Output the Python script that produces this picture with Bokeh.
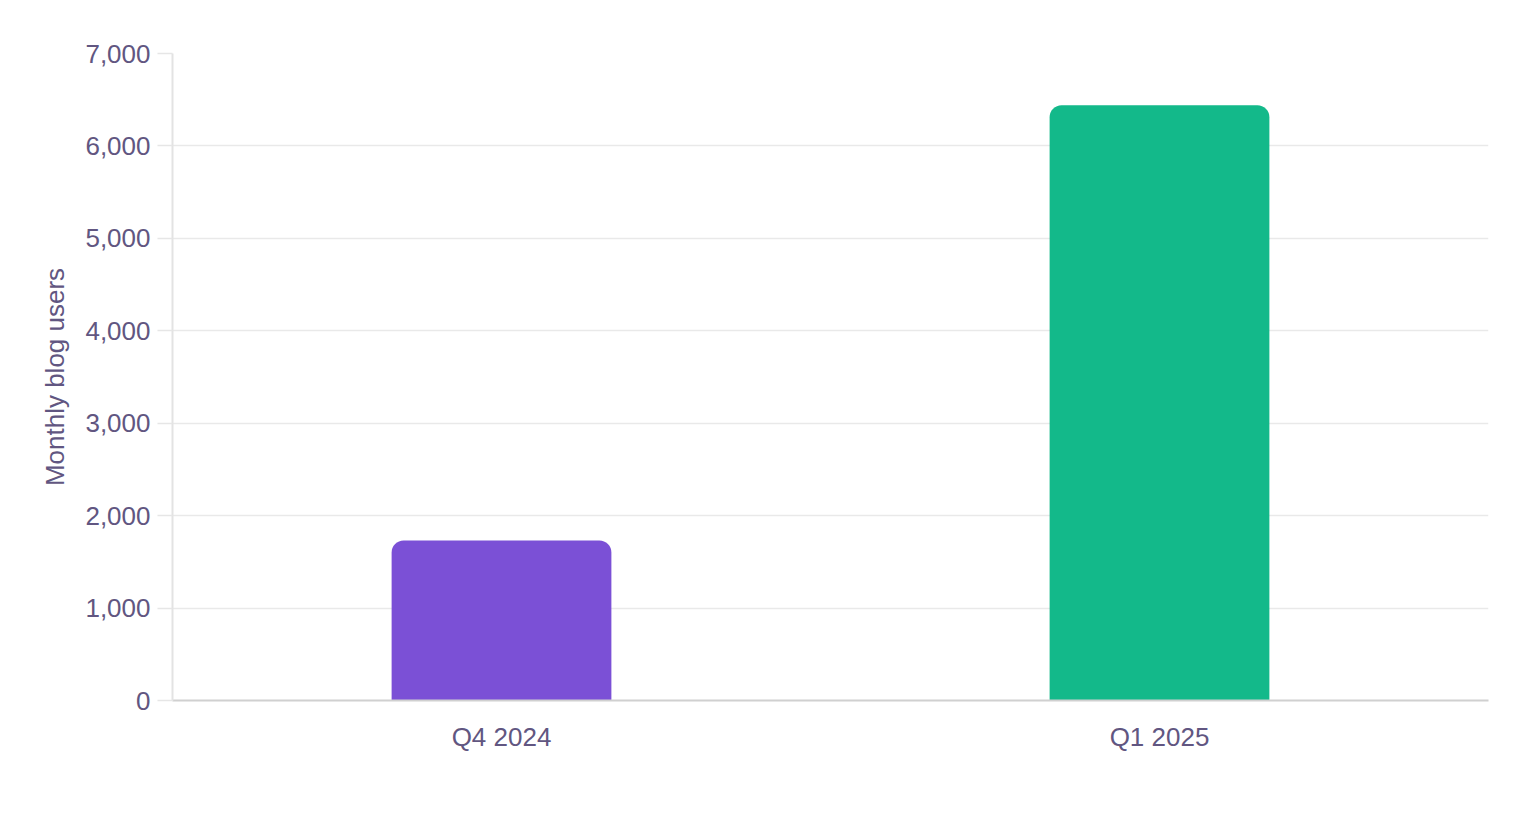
from bokeh.plotting import figure
from bokeh.models import ColumnDataSource, NumeralTickFormatter, FixedTicker
from bokeh.embed import file_html
from bokeh.resources import INLINE

quarters = ["Q4 2024", "Q1 2025"]
users = [1730, 6440]
colors = ["#7b50d6", "#13b98a"]
y_ticks = [0, 1000, 2000, 3000, 4000, 5000, 6000, 7000]

FONT = "Liberation Sans"
TEXT = "#615681"

source = ColumnDataSource(data=dict(q=quarters, users=users, color=colors))

p = figure(x_range=quarters, y_range=(0, 7000), width=1512, height=800,
           output_backend="svg", toolbar_location=None,
           min_border_left=172, min_border_right=24,
           min_border_top=53, min_border_bottom=100)
p.x_range.range_padding = 0
p.outline_line_color = None

p.vbar(x="q", top="users", width=0.334, source=source, fill_color="color",
       line_color=None, border_radius=(12, 12, 0, 0))

p.xgrid.grid_line_color = None
p.ygrid.grid_line_color = "#e9e9e9"
p.ygrid.grid_line_width = 1.5

p.yaxis.ticker = FixedTicker(ticks=y_ticks)
p.yaxis.formatter = NumeralTickFormatter(format="0,0")
p.yaxis.axis_label = "Monthly blog users"
p.yaxis.axis_label_text_font = FONT
p.yaxis.axis_label_text_font_size = "26px"
p.yaxis.axis_label_text_font_style = "normal"
p.yaxis.axis_label_text_color = TEXT
p.yaxis.axis_label_standoff = 12
p.yaxis.axis_line_color = "#e3e3e3"
p.yaxis.axis_line_width = 2
p.yaxis.major_tick_line_color = "#e6e6e6"
p.yaxis.major_tick_line_width = 1.5
p.yaxis.major_tick_out = 15
p.yaxis.major_tick_in = 0
p.yaxis.minor_tick_line_color = None
p.yaxis.major_label_standoff = 7

p.xaxis.axis_line_color = "#d0d0d0"
p.xaxis.axis_line_width = 2
p.xaxis.major_tick_line_color = None
p.xaxis.minor_tick_line_color = None
p.xaxis.major_label_standoff = 15

for ax in (p.xaxis, p.yaxis):
    ax.major_label_text_font = FONT
    ax.major_label_text_font_size = "26px"
    ax.major_label_text_color = TEXT

open("out.html", "w").write(file_html(p, INLINE))
